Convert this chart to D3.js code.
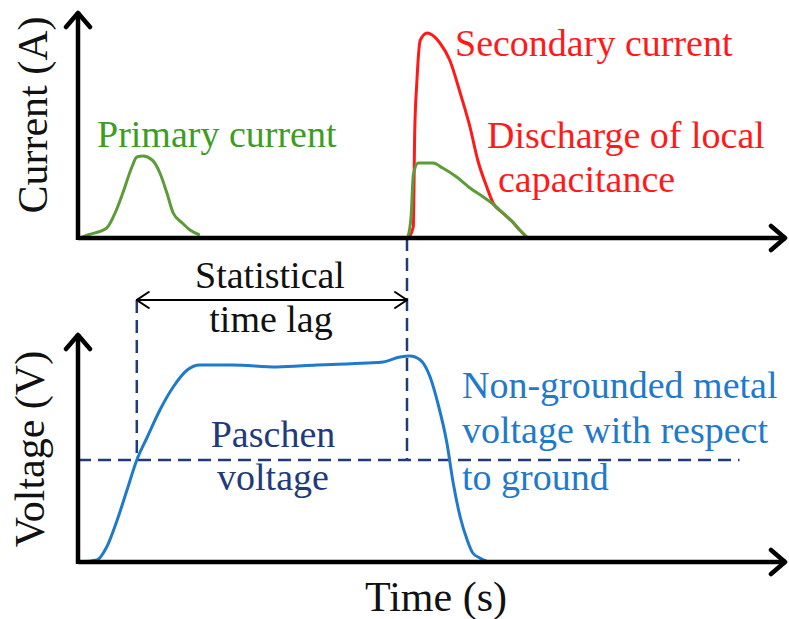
<!DOCTYPE html>
<html>
<head>
<meta charset="utf-8">
<script src="https://cdn.jsdelivr.net/npm/d3@7"></script>
<style>
  body { margin: 0; background: #fff; }
</style>
</head>
<body>
<div id="plot-area"></div>
<script>
// Schematic of primary / secondary current and metal voltage vs time

// time in arbitrary units (0-100), current and voltage in arbitrary units
const primaryT = [0.3, 1.4, 4.1, 5.3, 6.4, 7.7, 8.4, 9.3, 10.6, 11.7, 12.7, 13.6, 14.9, 16, 17.4];
const primaryI = [0, 1.5, 5, 12.5, 22.5, 35.5, 40.5, 41, 39, 32.5, 22.5, 12.5, 7.5, 4, 1.5];

const secondaryT = [0, 47.1, 47.9, 48.1, 48.4, 48.9, 49.9, 50.6, 51.7, 53.1, 54.6, 56, 57.1, 58.4, 59.3, 60.7, 62.1, 63.1, 64.1];
const secondaryI = [0, 0, 5.5, 52.5, 77.5, 99, 102.5, 101.5, 97.5, 89, 72.5, 55.5, 39, 25.5, 17.5, 12.5, 8, 4, 0.5];

const localT = [47.1, 47.6, 47.9, 48.6, 50.7, 52.1, 54.1, 56, 57.9, 59.1, 60.7, 62.1, 63.1, 64.1];
const localI = [0, 11.5, 31.5, 37.5, 37.5, 35, 30.5, 25, 20.5, 17.5, 12.5, 8, 4, 0.5];

const voltageT = [0.3, 2.7, 4.1, 5.6, 7, 8.4, 9.9, 11.7, 13.6, 15.6, 17.4, 22.1, 28.4, 34.1, 41.3, 43.6, 46, 47.4, 48.9, 50.3, 51.4, 52.7, 53.6, 54.6, 55.6, 56.4, 57.4, 58.6];
const voltageV = [0, 1, 7.5, 21, 36, 51, 62.5, 76, 87.5, 96, 98.5, 98.5, 97.5, 98.5, 99.5, 100, 102.5, 103, 101, 92.5, 79.5, 59.5, 39.5, 22.5, 11, 4.5, 2, 0];

const paschenV = 51;
const lagStart = 8.4;   // voltage crosses Paschen level
const lagEnd = 47;      // secondary current starts

const serif = "'Liberation Serif', 'Times New Roman', serif";

const svg = d3.select("#plot-area").
append("svg").
attr("width", 789).
attr("height", 619);

// Scales
const x = d3.scaleLinear().domain([0, 100]).range([78, 778]);
const yCur = d3.scaleLinear().domain([0, 114]).range([238, 10]);
const yVol = d3.scaleLinear().domain([0, 115]).range([562, 332]);

const axisEnd = 788;

// Arrow markers
const defs = svg.append("defs");
defs.append("marker").
attr("id", "bigArrow").
attr("viewBox", "0 0 20 30").
attr("refX", 18).
attr("refY", 15).
attr("markerWidth", 20).
attr("markerHeight", 30).
attr("markerUnits", "userSpaceOnUse").
attr("orient", "auto").
append("path").
attr("d", "M3,3 L17,15 L3,27").
attr("fill", "none").
attr("stroke", "#000").
attr("stroke-width", 4.5).
attr("stroke-linecap", "round").
attr("stroke-linejoin", "round");

defs.append("marker").
attr("id", "smallArrow").
attr("viewBox", "0 0 14 20").
attr("refX", 13).
attr("refY", 10).
attr("markerWidth", 14).
attr("markerHeight", 20).
attr("markerUnits", "userSpaceOnUse").
attr("orient", "auto-start-reverse").
append("path").
attr("d", "M1,2 L13,10 L1,18").
attr("fill", "none").
attr("stroke", "#000").
attr("stroke-width", 2).
attr("stroke-linecap", "round");

// Line helpers
const curLine = d3.line().
x(d => x(d[0])).
y(d => yCur(d[1])).
curve(d3.curveMonotoneX);

const volLine = d3.line().
x(d => x(d[0])).
y(d => yVol(d[1])).
curve(d3.curveMonotoneX);

const navy = "#1f3b7a";
const dash = "13,7";

// Dashed guides
svg.append("line").
attr("x1", x(0)).
attr("x2", x(94.5)).
attr("y1", yVol(paschenV)).
attr("y2", yVol(paschenV)).
attr("stroke", navy).
attr("stroke-width", 2.5).
attr("stroke-dasharray", dash);

svg.append("line").
attr("x1", x(lagStart)).
attr("x2", x(lagStart)).
attr("y1", 300).
attr("y2", yVol(paschenV)).
attr("stroke", navy).
attr("stroke-width", 2.5).
attr("stroke-dasharray", dash);

svg.append("line").
attr("x1", x(lagEnd)).
attr("x2", x(lagEnd)).
attr("y1", yCur(0)).
attr("y2", yVol(paschenV)).
attr("stroke", navy).
attr("stroke-width", 2.5).
attr("stroke-dasharray", dash);

// Statistical time lag double arrow
svg.append("line").
attr("x1", x(lagStart)).
attr("x2", x(lagEnd)).
attr("y1", 300).
attr("y2", 300).
attr("stroke", "#000").
attr("stroke-width", 2).
attr("marker-start", "url(#smallArrow)").
attr("marker-end", "url(#smallArrow)");

// Curves
svg.append("path").
datum(d3.zip(primaryT, primaryI)).
attr("d", curLine).
attr("fill", "none").
attr("stroke", "#5b9c38").
attr("stroke-width", 3);

svg.append("path").
datum(d3.zip(secondaryT, secondaryI)).
attr("d", curLine).
attr("fill", "none").
attr("stroke", "#ff1a1a").
attr("stroke-width", 3);

svg.append("path").
datum(d3.zip(localT, localI)).
attr("d", curLine).
attr("fill", "none").
attr("stroke", "#5b9c38").
attr("stroke-width", 3);

svg.append("path").
datum(d3.zip(voltageT, voltageV)).
attr("d", volLine).
attr("fill", "none").
attr("stroke", "#1f7acb").
attr("stroke-width", 3);

// Axes (arrows)
function drawAxes(yScale) {
  const y0 = yScale.range()[0];
  const yTop = yScale.range()[1];
  svg.append("line").
  attr("x1", x(0)).
  attr("x2", axisEnd - 2).
  attr("y1", y0).
  attr("y2", y0).
  attr("stroke", "#000").
  attr("stroke-width", 4.5).
  attr("marker-end", "url(#bigArrow)");
  svg.append("line").
  attr("x1", x(0)).
  attr("x2", x(0)).
  attr("y1", y0 + 2).
  attr("y2", yTop + 2).
  attr("stroke", "#000").
  attr("stroke-width", 4.5).
  attr("marker-end", "url(#bigArrow)");
}
drawAxes(yCur);
drawAxes(yVol);

// Axis titles
const titles = [
{ t: "Current (A)", x: 47, y: 115, r: -90 },
{ t: "Voltage (V)", x: 44, y: 449, r: -90 },
{ t: "Time (s)", x: 436, y: 611, r: 0 }];


svg.selectAll("text.title").
data(titles).
join("text").
attr("class", "title").
attr("transform", d => `translate(${d.x},${d.y}) rotate(${d.r})`).
attr("text-anchor", "middle").
attr("font-family", serif).
attr("font-size", 42).
attr("fill", "#111").
text(d => d.t);

// Annotations
const notes = [
{ t: "Primary current", x: 97, y: 147, c: "#3d9c22", a: "start" },
{ t: "Secondary current", x: 455, y: 56, c: "#ff1a1a", a: "start" },
{ t: "Discharge of local", x: 487, y: 148, c: "#ff1a1a", a: "start" },
{ t: "capacitance", x: 498, y: 192, c: "#ff1a1a", a: "start" },
{ t: "Statistical", x: 270, y: 288, c: "#111", a: "middle" },
{ t: "time lag", x: 271, y: 332, c: "#111", a: "middle" },
{ t: "Paschen", x: 273, y: 447, c: navy, a: "middle" },
{ t: "voltage", x: 273, y: 490, c: navy, a: "middle" },
{ t: "Non-grounded metal", x: 462, y: 398, c: "#1f7acb", a: "start" },
{ t: "voltage with respect", x: 462, y: 443, c: "#1f7acb", a: "start" },
{ t: "to ground", x: 462, y: 490, c: "#1f7acb", a: "start" }];


svg.selectAll("text.note").
data(notes).
join("text").
attr("class", "note").
attr("x", d => d.x).
attr("y", d => d.y).
attr("text-anchor", d => d.a).
attr("fill", d => d.c).
attr("font-family", serif).
attr("font-size", 38).
text(d => d.t);
</script>
</body>
</html>
